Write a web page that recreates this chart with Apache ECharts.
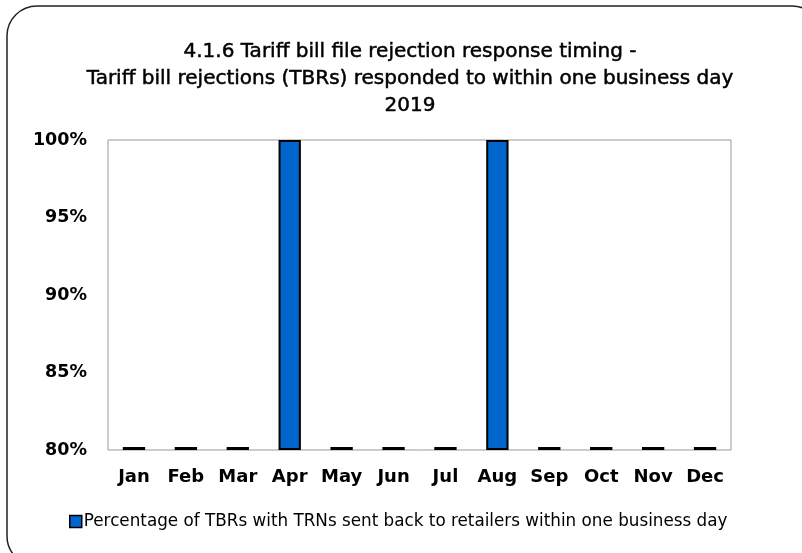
<!DOCTYPE html>
<html><head><meta charset="utf-8">
<script src="https://cdn.jsdelivr.net/npm/echarts@6/dist/echarts.min.js"></script>
<style>html,body{margin:0;padding:0;background:#fff}#c{width:802px;height:553px}</style>
</head><body><div id="c"></div>
<script>
var categories = ['Jan','Feb','Mar','Apr','May','Jun','Jul','Aug','Sep','Oct','Nov','Dec'];
var values = [80,80,80,100,80,80,80,100,80,80,80,80];
var seriesName = 'Percentage of TBRs with TRNs sent back to retailers within one business day';
var titleText = '4.1.6 Tariff bill file rejection response timing -\nTariff bill rejections (TBRs) responded to within one business day\n2019';
var yMin = 80, yMax = 100, yStep = 5;
var FONT = 'DejaVu Sans';
var baseData = categories.map(function(){ return yMin; });
var aboveMin = values.map(function(v){ return v - yMin; });
var chart = echarts.init(document.getElementById('c'));
chart.setOption({
  animation: false,
  graphic: [{type:'rect', shape:{x:7,y:6,width:815,height:560,r:30}, style:{fill:'none',stroke:'#222',lineWidth:1.5}, z:-1}],
  title: {text: titleText, left: 405, textAlign:'center', top: 33,
    textStyle:{fontFamily:FONT, fontWeight:'normal', fontSize:20, color:'#000', lineHeight:27,
      textBorderColor:'#000', textBorderWidth:0.5}},
  grid: {left:108, right:71, top:140, bottom:103, show:true, borderColor:'#999', borderWidth:1, backgroundColor:'#fff'},
  legend: {bottom: 18, left: 64, itemWidth:12, itemHeight:12, icon:'rect', itemGap:5,
    textStyle:{fontFamily:FONT, fontSize:16.8, color:'#000', padding:[0,0,0,-3]},
    data:[{name:seriesName, itemStyle:{borderColor:'#000', borderWidth:1.5}}]},
  xAxis: {type:'category', data:categories,
    axisLine:{show:false}, axisTick:{show:false},
    axisLabel:{interval:0, hideOverlap:false, fontFamily:FONT, fontWeight:'bold', fontSize:18, color:'#000', margin:18}},
  yAxis: {type:'value', min:yMin, max:yMax, interval:yStep,
    axisLine:{show:false}, axisTick:{show:false}, splitLine:{show:false},
    axisLabel:{fontFamily:FONT, fontWeight:'bold', fontSize:17.5, color:'#000', margin:21,
      formatter:function(v){return v+'%';}}},
  series: [
    {type:'bar', name:'base', stack:'s', data:baseData, barWidth:'43%', silent:true,
      itemStyle:{color:'rgba(0,0,0,0)', borderWidth:0}},
    {type:'bar', name:seriesName, stack:'s', data:aboveMin, barWidth:'43%', barMinHeight:3, clip:false,
      itemStyle:{color:'#0066CC', borderColor:'#000', borderWidth:2}, z:3}
  ]
});
</script></body></html>
